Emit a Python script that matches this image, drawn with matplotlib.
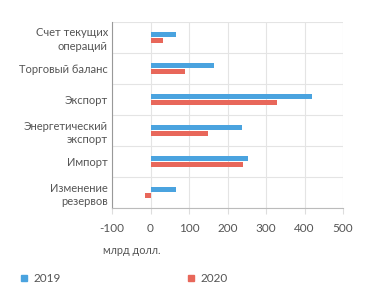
import matplotlib
matplotlib.use("Agg")
import matplotlib.pyplot as plt
import numpy as np
from matplotlib.lines import Line2D

categories = ["Счет текущих\nопераций", "Торговый баланс", "Экспорт",
              "Энергетический\nэкспорт", "Импорт", "Изменение\nрезервов"]
values_2019 = [65, 165, 420, 237, 254, 67]
values_2020 = [32, 89, 329, 149, 240, -14]
series_names = ["2019", "2020"]
xticks = [-100, 0, 100, 200, 300, 400, 500]

blue = "#4aa3df"
red = "#e8675a"
txt = "#555555"

plt.rcParams['font.family'] = ['Lato', 'DejaVu Sans']

fig = plt.figure(figsize=(3.71, 3.02), dpi=100)
ax = fig.add_axes([112/371, 1-208/302, (343-112)/371, (208-22)/302])

y = np.arange(len(categories))
h = 0.175
ax.barh(y - h/2, values_2019, height=h, color=blue, zorder=3)
ax.barh(y + h/2, values_2020, height=h, color=red, zorder=3)

ax.set_xlim(-100, 500)
ax.set_ylim(len(categories) - 0.5, -0.5)
ax.set_xticks(xticks)
ax.set_xticklabels([str(v) for v in xticks])
ax.set_yticks(y)
ax.set_yticklabels(categories, ha='right', linespacing=1.3)
ax.set_yticks(np.arange(-0.5, len(categories), 1), minor=True)

ax.grid(axis='x', color='#e4e4e4', linewidth=0.8, zorder=0)
ax.grid(axis='y', which='minor', color='#e4e4e4', linewidth=0.8, zorder=0)
ax.tick_params(axis='y', which='both', length=0, pad=3, labelsize=8.0, labelcolor=txt)
ax.tick_params(axis='x', length=4, color='#dddddd', pad=7, labelsize=8.5, labelcolor=txt)

for s in ['top', 'right']:
    ax.spines[s].set_visible(False)
ax.spines['left'].set_color('#999999')
ax.spines['left'].set_linewidth(0.8)
ax.spines['bottom'].set_color('#bbbbbb')
ax.spines['bottom'].set_linewidth(0.8)

fig.text(103/371, 1-250/302, "млрд долл.", fontsize=7.8, color=txt, va='center', ha='left')

handles = [Line2D([], [], marker='s', linestyle='none', markersize=4.5, color=blue),
           Line2D([], [], marker='s', linestyle='none', markersize=4.5, color=red)]
fig.legend(handles, series_names, loc='center left', bbox_to_anchor=(13/371, 1-279/302),
           ncol=2, frameon=False, fontsize=8.5, labelcolor=txt, handletextpad=0.3,
           columnspacing=10.6, handlelength=1.0, borderaxespad=0)

fig.savefig("out.png", dpi=100)
